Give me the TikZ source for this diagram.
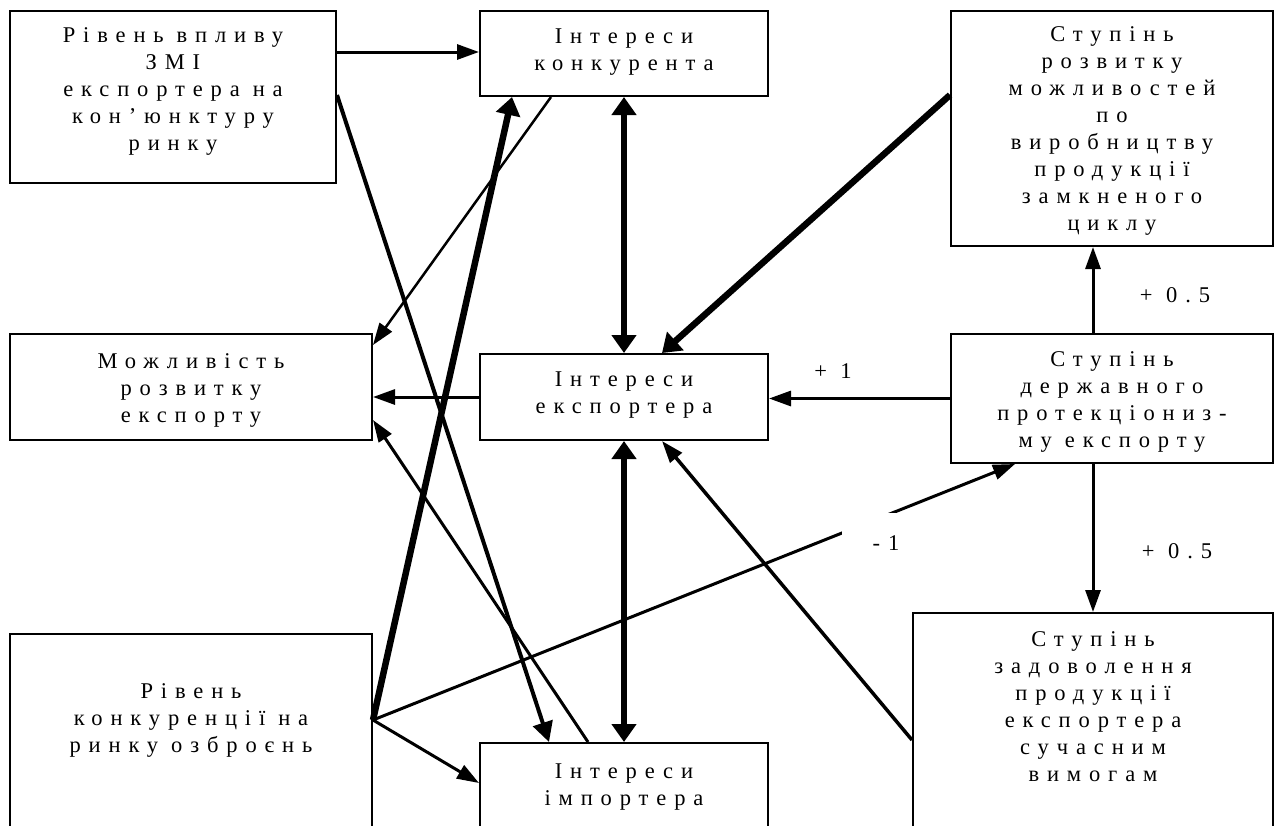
\documentclass[tikz,border=0pt]{standalone}
\usepackage{fontspec}
\setmainfont{Liberation Serif}
\newfontfamily\spacedfont[LetterSpace=35]{Liberation Serif}
\newcommand\boxfont{\spacedfont\fontsize{22.5}{27}\selectfont\spaceskip=13pt\relax}
\newcommand\labfont{\spacedfont\fontsize{22.5}{27}\selectfont}
\usetikzlibrary{arrows.meta}
\tikzset{
	mybox/.style={
		draw,
		line width=2pt,
		anchor=north west,
		inner sep=0pt,
		align=flush center,
		font=\boxfont
	},
	myarrow/.style={
		line width=3pt,
		-{Triangle[length=22pt,width=15pt]}
	},
	mymid/.style={
		line width=4pt,
		-{Triangle[length=20pt,width=20pt]}
	},
	mythick/.style={
		line width=6.5pt,
		-{Triangle[length=18pt,width=24pt]}
	},
	mydouble/.style={
		line width=6.5pt,
		{Triangle[length=18pt,width=24pt]}-{Triangle[length=18pt,width=24pt]}
	},
	mylabel/.style={
		inner sep=0pt,
		font=\labfont
	}
}

\begin{document}
\begin{tikzpicture}[x=1pt,y=-1pt]
			\useasboundingbox (0,0) rectangle (1279,825);
			\node[mybox, text width=326pt, text height=31pt, text depth=141pt] (zmi) at (9,10) {Рівень впливу\\ЗМІ\\експортера на\\кон’юнктуру\\ринку};
			\node[mybox, text width=288pt, text height=32pt, text depth=53pt] (konk) at (479,10) {Інтереси\\конкурента};
			\node[mybox, text width=322pt, text height=30pt, text depth=205pt] (rozv) at (950,10) {Ступінь\\розвитку\\можливостей\\по\\виробництву\\продукції\\замкненого\\циклу};
			\node[mybox, text width=362pt, text height=34pt, text depth=72pt] (mozhl) at (9,333) {Можливість\\розвитку\\експорту};
			\node[mybox, text width=288pt, text height=32pt, text depth=54pt] (eksp) at (479,353) {Інтереси\\експортера};
			\node[mybox, text width=322pt, text height=32pt, text depth=97pt] (prot) at (950,333) {Ступінь\\державного\\протекціониз-\\му експорту};
			\node[mybox, text width=362pt, text height=64pt, text depth=203pt] (rivkonk) at (9,633) {Рівень\\конкуренції на\\ринку озброєнь};
			\node[mybox, text width=288pt, text height=35pt, text depth=123pt] (imp) at (479,742) {Інтереси\\імпортера};
			\node[mybox, text width=360pt, text height=33pt, text depth=255pt] (zadov) at (912,612) {Ступінь\\задоволення\\продукції\\експортера\\сучасним\\вимогам};
			\coordinate (gout) at ([yshift=-87pt]rivkonk.north east);

			\draw[myarrow] ([yshift=-42pt]zmi.north east) -- ([yshift=-42pt]konk.north west);
			\draw[mymid] ([yshift=-85pt]zmi.north east) -- ([xshift=70pt]imp.north west);
			\draw[mythick] (gout) -- ([xshift=33pt]konk.south west);
			\draw[myarrow, line width=2.5pt] ([xshift=72pt]konk.south west) -- ([yshift=-12pt]mozhl.north east);
			\draw[mydouble] (konk.south) -- (eksp.north);
			\draw[mydouble] (eksp.south) -- (imp.north);
			\draw[mythick] ([yshift=-85pt]rozv.north west) -- ([xshift=-107pt]eksp.north east);
			\draw[myarrow] (eksp.west) -- (eksp.west -| mozhl.east);
			\draw[myarrow] (prot.west) -- (prot.west -| eksp.east);
			\draw[myarrow] ([xshift=143pt]prot.north west) -- ([xshift=143pt]rozv.south west);
			\draw[myarrow] ([xshift=143pt]prot.south west) -- ([xshift=143pt]prot.south west |- zadov.north);
			\draw[myarrow] (gout) -- ([yshift=-41pt]imp.north west);
			\draw[myarrow] (gout) -- ([xshift=65pt]prot.south west);
			\draw[myarrow] ([xshift=109pt]imp.north west) -- ([yshift=-87pt]mozhl.north east);
			\draw[myarrow, line width=3.5pt] ([yshift=-128pt]zadov.north west) -- ([xshift=-107pt]eksp.south east);

			\node[mylabel] (plus1) at (833,371) {+ 1};
			\node[mylabel] (plusup) at (1175,295) {+ 0.5};
			\node[mylabel] (plusdown) at (1177,551) {+ 0.5};
			\node[mylabel, fill=white, minimum width=88pt, minimum height=60pt] (minus1) at (886,543) {-1};
\end{tikzpicture}
\end{document}
